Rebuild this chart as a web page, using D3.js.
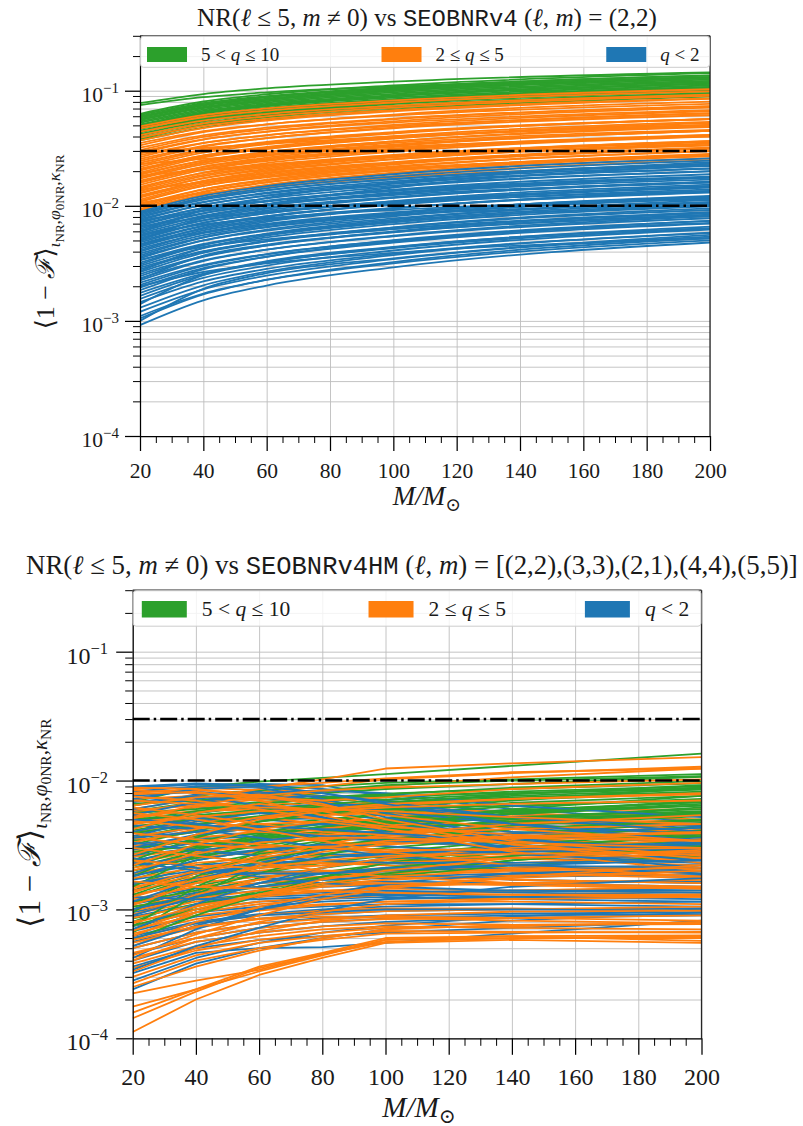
<!DOCTYPE html>
<html>
<head>
<meta charset="utf-8">
<script src="https://cdn.jsdelivr.net/npm/d3@7"></script>
<style>
  html, body { margin: 0; padding: 0; background: #fff; }
  svg { display: block; font-family: "Liberation Serif", "DejaVu Serif", serif; }
  text { white-space: pre; }
</style>
</head>
<body>
<svg id="fig" width="803" height="1126"></svg>
<script>
// ---------------------------------------------------------------
// Mass grids (total mass in solar masses) and reference levels
// ---------------------------------------------------------------
const massTop = [20, 40, 60, 100, 200];
const massBottom = [20, 40, 60, 80, 100, 140, 200];
const massTicks = [20, 40, 60, 80, 100, 120, 140, 160, 180, 200];
const thresholds = [0.03, 0.01];

// Legend categories (mass ratio bins)
const binKeys = ["high", "mid", "low"];
const binColors = { high: "#2ca02c", mid: "#ff7f0e", low: "#1f77b4" };
const binLabels = {
  high: [["5 < ", "r"], ["q", "i"], [" ≤ 10", "r"]],
  mid:  [["2 ≤ ", "r"], ["q", "i"], [" ≤ 5", "r"]],
  low:  [["q", "i"], [" < 2", "r"]]
};

// Titles (text runs: r = roman, i = italic, t = typewriter)
const titleTop = [["NR(", "r"], ["ℓ", "i"], [" ≤ 5, ", "r"], ["m", "i"], [" ≠ 0) vs ", "r"],
  ["SEOBNRv4", "t"], [" (", "r"], ["ℓ", "i"], [", ", "r"], ["m", "i"], [") = (2,2)", "r"]];
const titleBottom = [["NR(", "r"], ["ℓ", "i"], [" ≤ 5, ", "r"], ["m", "i"], [" ≠ 0) vs ", "r"],
  ["SEOBNRv4HM", "t"], [" (", "r"], ["ℓ", "i"], [", ", "r"], ["m", "i"],
  [") = [(2,2),(3,3),(2,1),(4,4),(5,5)]", "r"]];

// ---------------------------------------------------------------
// SEOBNRv4, (l,m)=(2,2): mismatch in units of 1e-3, one row per
// NR simulation, sampled on massTop
// ---------------------------------------------------------------
const v4QLow = [
  [0.92,1.51,2.03,2.92,4.8],[1.05,1.7,2.28,3.24,5.25],[1.1,1.73,2.27,3.16,5.0],
  [1.2,1.88,2.47,3.44,5.4],[1.3,2.04,2.68,3.73,5.85],[1.45,2.2,2.83,3.83,5.8],
  [1.55,2.36,3.02,4.09,6.2],[1.65,2.51,3.22,4.36,6.6],[1.75,2.57,3.24,4.29,6.3],
  [1.85,2.81,3.61,4.88,7.4],[1.95,2.87,3.61,4.78,7.0],[2.0,2.66,3.16,3.9,5.2],
  [2.05,3.01,3.79,5.02,7.4],[2.15,3.07,3.81,4.97,7.1],[2.25,3.31,4.16,5.51,8.1],
  [2.35,3.36,4.16,5.43,7.8],[2.45,3.6,4.53,6.0,8.8],[2.55,3.65,4.51,5.89,8.4],
  [2.65,3.9,4.9,6.49,9.5],[2.8,4.0,4.96,6.47,9.2],[2.9,4.03,4.9,6.26,8.7],
  [3.0,4.29,5.31,6.93,9.9],[3.1,4.56,5.74,7.6,11.2],[3.2,4.58,5.66,7.39,10.6],
  [3.35,4.66,5.66,7.24,10.0],[3.5,5.0,6.2,8.09,11.6],[3.6,5.0,6.08,7.78,10.8],
  [3.7,5.29,6.55,8.55,12.2],[3.85,5.35,6.51,8.32,11.6],[4.0,5.56,6.76,8.64,12.0],
  [4.1,5.86,7.26,9.47,13.5],[4.25,5.78,6.97,8.76,11.9],[4.4,6.12,7.44,9.5,13.2],
  [4.5,6.44,7.97,10.4,14.9],[4.65,6.32,7.63,9.58,13.0],[4.8,6.67,8.11,10.4,14.4],
  [4.95,6.73,8.12,10.2,13.9],[5.0,7.85,10.3,14.4,22.5],[5.1,7.09,8.62,11.0,15.3],
  [5.25,7.14,8.61,10.8,14.7],[5.4,7.51,9.13,11.7,16.2],[5.6,7.45,8.85,10.9,14.6],
  [5.75,7.82,9.43,11.8,16.1],[5.9,8.2,9.97,12.7,17.7],[6.0,9.12,11.7,15.8,24.0],
  [6.1,8.11,9.64,11.9,15.9],[6.3,8.57,10.3,13.0,17.6],[6.5,8.65,10.3,12.7,16.9],
  [6.7,9.11,11.0,13.8,18.8],[6.9,9.18,10.9,13.5,17.9],[7.1,9.66,11.6,14.6,19.9],
  [7.3,9.49,11.1,13.5,17.5],[7.5,10.2,12.3,15.5,21.0],[7.7,10.2,12.2,15.0,20.0],
  [7.9,10.7,13.0,16.3,22.1],[8.1,10.8,12.8,15.8,21.1],[8.3,11.3,13.6,17.1,23.2],
  [8.5,11.7,14.2,17.9,24.7],[8.7,11.6,13.7,17.0,22.6],[8.9,12.2,14.8,18.8,25.8],
  [1.0,1.9,2.6,3.5,5.6],[1.4,2.5,3.3,4.4,6.4],[2.3,3.7,4.6,5.9,8.2],
  [2.7,4.3,5.5,7.2,10.3],[3.4,4.4,5.1,6.3,8.6],[4.6,5.9,6.9,8.3,10.6],
  [5.5,6.9,7.8,9.2,11.4],[6.6,7.9,8.9,10.6,13.4],[7.4,9.0,10.3,12.4,16.0]
];
const v4QMid = [
  [8.6,11.8,14.3,18.1,24.9],[9.0,12.5,15.2,19.4,27.0],[9.2,12.5,15.1,19.0,25.8],
  [9.4,13.1,15.9,20.3,28.2],[9.8,13.3,16.1,20.2,27.4],[10.0,13.9,16.9,21.6,30.0],
  [10.3,13.9,16.6,20.6,27.8],[10.8,14.9,18.0,22.8,31.3],[11.0,14.9,17.7,22.0,29.7],
  [11.3,15.4,18.5,23.3,31.6],[11.8,15.9,19.0,23.6,31.9],[12.0,16.5,20.0,25.3,34.8],
  [12.3,16.4,19.4,24.0,32.0],[12.8,17.4,21.0,26.4,35.8],[13.0,17.3,20.5,25.4,33.8],
  [13.4,18.1,21.6,26.8,36.2],[14.0,18.6,22.1,27.3,36.4],[14.3,19.4,23.5,29.5,40.0],
  [14.6,19.3,22.6,27.7,36.5],[15.2,20.5,24.5,30.4,41.0],[15.8,21.0,25.0,30.8,41.1],
  [16.0,21.8,26.2,33.0,44.8],[16.5,21.8,25.6,31.4,41.3],[17.2,22.9,27.2,33.5,44.7],
  [17.6,23.9,28.9,36.3,49.3],[17.9,23.6,27.7,34.0,44.8],[18.6,24.7,29.4,36.3,48.4],
  [19.0,24.7,28.9,35.2,45.6],[19.4,26.2,31.2,38.8,52.4],[20.2,26.7,31.3,38.4,50.5],
  [20.6,27.4,32.5,40.2,53.6],[21.0,27.3,31.9,38.9,50.4],[21.8,29.0,34.4,42.5,56.7],
  [22.7,30.0,35.2,43.1,56.8],[23.6,30.7,35.9,43.7,56.6],[24.5,32.6,38.7,47.8,63.7],
  [25.5,33.2,38.8,47.2,61.2],[26.5,35.0,41.1,50.4,66.3],[27.5,35.2,41.0,49.2,63.3],
  [28.5,37.6,44.2,54.2,71.3],[29.5,37.8,44.0,52.8,67.9],[30.5,39.7,46.4,56.4,73.2],
  [32.0,41.0,47.7,57.3,73.6],[33.5,43.6,50.9,62.0,80.4],[35.0,44.5,51.1,60.9,77.0],
  [37.0,47.4,55.1,66.2,85.1],[39.0,49.5,56.9,67.9,85.8],[41.0,52.1,59.9,71.3,90.2],
  [44.0,55.0,62.9,73.9,92.4],[47.0,58.8,67.2,79.0,98.7],[49.0,61.3,70.1,82.3,103],
  [10.6,12.8,14.6,17.6,23.0],[13.8,16.0,17.9,21.2,27.0],[18.2,20.6,22.8,26.6,33.4],
  [23.0,25.6,28.0,32.4,40.2],[29.0,31.8,34.6,40.0,49.6]
];
const v4QHigh = [
  [37,47.8,56.4,68.5,88.8],[38,50.2,58.9,72.2,95],[39,50.3,58.9,71.0,91.7],
  [40.5,52.2,61.2,73.7,95.2],[42,54.2,63.4,76.4,98.7],[43.5,55.7,64.8,77.9,100],
  [44,57.2,66.9,81.4,106],[45,57.6,67.1,80.6,103.5],[46.5,59.5,69.3,83.2,107],
  [48,61.4,71.0,84.5,108],[49.5,63.4,73.3,87.1,111],[50,64,74.5,89.5,115],
  [51,65.3,75.5,89.8,115],[52.5,66.7,76.7,91.4,116],[54,68.6,78.8,94.0,119],
  [55.5,70.5,81.0,96.6,122],[56,71.7,83.4,100,129],[57,72.4,83.2,99.2,125],
  [58.5,74.3,85.4,102,129],[59,75.5,87.9,106,136],[60,76.2,87.6,104,132],
  [61.5,78.1,89.8,107,135],[63,80.6,93.2,111,142],[75,87.8,96.8,109,128],
  [78,93.6,105,120,144]
];

// ---------------------------------------------------------------
// SEOBNRv4HM, five modes: mismatch in units of 1e-3, sampled on
// massBottom
// ---------------------------------------------------------------
const hmQLow = [
  [8.8,9.3,9.4,9.2,7.5,5.5,4.2],[7.0,9.0,9.2,8.6,7.8,6.0,4.8],[6.4,7.8,8.2,7.0,6.2,5.0,4.5],
  [5.8,6.6,7.4,7.6,7.0,5.6,4.0],[5.2,6.2,6.0,5.6,5.0,4.3,3.6],[4.8,5.6,6.4,6.2,5.4,4.0,3.2],
  [4.3,5.2,5.0,4.6,4.2,3.6,3.0],[3.9,4.6,5.0,5.1,4.8,4.0,3.5],[3.5,4.4,4.5,4.1,3.8,3.2,2.7],
  [3.2,3.6,3.9,4.2,4.4,4.6,4.8],[2.9,3.5,3.7,3.6,3.4,3.0,2.6],[2.6,3.0,3.4,3.5,3.6,3.4,3.1],
  [2.4,2.9,3.1,3.0,2.8,2.5,2.3],[2.2,2.6,2.9,3.1,3.3,3.6,3.9],[2.0,2.5,2.8,2.7,2.5,2.2,2.0],
  [1.85,2.2,2.4,2.6,2.7,2.8,2.9],[1.7,2.0,2.3,2.4,2.3,2.0,1.8],[1.55,1.9,2.1,2.3,2.4,2.5,2.6],
  [1.4,1.75,1.95,2.0,1.9,1.7,1.6],[1.3,1.6,1.8,1.9,2.0,2.1,2.2],[1.2,1.45,1.6,1.7,1.75,1.8,1.85],
  [1.1,1.35,1.5,1.6,1.65,1.6,1.5],[1.0,1.25,1.4,1.5,1.55,1.6,1.65],[0.95,1.2,1.3,1.35,1.4,1.35,1.3],
  [0.88,1.1,1.25,1.3,1.35,1.4,1.45],[0.8,1.0,1.15,1.2,1.25,1.2,1.15],[0.74,0.95,1.05,1.15,1.2,1.25,1.3],
  [0.68,0.88,1.0,1.05,1.1,1.1,1.05],[0.62,0.8,0.92,1.0,1.05,1.1,1.15],[0.56,0.74,0.85,0.92,0.97,1.0,1.02],
  [0.5,0.66,0.78,0.86,0.9,0.93,0.95],[0.45,0.6,0.72,0.8,0.85,0.9,0.92],[0.4,0.56,0.66,0.74,0.8,0.86,0.9],
  [0.36,0.5,0.58,0.62,0.66,0.72,0.8],[0.32,0.46,0.5,0.51,0.55,0.65,0.82],[0.24,0.38,0.5,0.6,0.7,0.82,0.95],
  [0.28,0.42,0.55,0.66,0.75,0.88,1.0],[6.0,7.2,8.0,8.4,8.0,6.4,5.2],[7.6,8.2,7.4,6.6,5.8,4.6,3.8],
  [4.0,5.0,6.0,6.6,6.4,5.2,4.4],[3.0,3.8,4.3,4.6,4.5,3.8,3.3],[2.7,3.3,3.0,2.7,2.6,2.8,3.0],
  [1.6,1.9,2.2,2.5,2.7,3.0,3.3],[1.0,1.3,1.5,1.7,1.8,1.9,2.0],[0.6,0.78,0.9,0.95,1.0,1.0,0.98],
  [8.2,9.0,8.8,7.2,5.6,3.6,2.6],[6.8,7.6,6.4,5.2,4.2,3.0,2.4],[5.4,6.8,7.8,6.8,5.2,3.4,2.8],
  [4.5,4.2,3.6,3.0,2.6,2.2,1.9],[3.7,4.8,5.6,5.2,4.0,2.8,2.1],[2.5,2.1,1.8,1.6,1.5,1.4,1.4],
  [1.9,2.7,3.4,3.8,3.6,3.0,2.4],[1.15,1.7,2.3,2.9,3.4,3.9,4.3],[0.7,1.1,1.6,2.1,2.5,2.9,3.2],
  [0.42,0.7,1.0,1.3,1.6,1.9,2.1],[0.34,0.52,0.72,0.98,1.2,1.5,1.75],[9.0,9.5,9.2,8.0,6.8,5.2,4.0],
  [3.3,2.9,2.6,2.4,2.3,2.3,2.4],[5.0,4.6,4.1,3.7,3.4,3.1,2.9],[1.25,1.2,1.2,1.25,1.3,1.25,1.2],
  [7.2,8.6,9.0,8.0,6.6,4.6,3.4],[3.6,4.0,4.4,4.2,3.9,3.4,3.0],[1.8,2.4,2.9,3.2,3.1,2.7,2.3],
  [0.9,1.25,1.6,1.9,2.1,2.2,2.1],[0.52,0.75,1.0,1.2,1.35,1.4,1.35],[2.3,2.0,1.9,1.9,2.0,2.2,2.4]
];
const hmQMid = [
  [8.6,8.8,8.4,7.6,6.4,5.0,4.0],[8.2,8.4,8.0,7.0,6.0,4.6,3.8],[6.0,7.2,8.6,10.2,12.4,13.6,15.2],
  [5.6,6.8,8.0,9.0,10.2,11.4,12.8],[5.0,6.2,7.2,8.2,9.0,10.6,12.4],[7.2,7.6,7.0,6.2,5.6,4.8,4.2],
  [6.6,7.0,7.2,6.8,6.4,5.6,5.0],[5.9,6.4,5.8,5.2,4.8,4.4,4.0],[5.3,5.8,6.0,5.8,5.4,5.0,4.6],
  [4.7,5.4,5.6,5.0,4.3,3.6,3.0],[4.4,5.0,5.2,5.4,5.6,5.8,6.0],[4.0,4.8,5.2,4.6,4.0,3.4,2.9],
  [3.7,4.3,4.6,4.8,5.0,5.3,5.6],[3.4,4.0,4.2,3.9,3.5,3.0,2.6],[3.1,3.6,4.0,4.3,4.5,4.7,4.9],
  [2.8,3.3,3.6,3.4,3.1,2.7,2.4],[2.55,3.0,3.3,3.5,3.7,3.9,4.1],[2.3,2.8,3.1,3.0,2.8,2.5,2.2],
  [2.1,2.5,2.8,3.0,3.2,3.5,3.8],[1.9,2.3,2.5,2.4,2.3,2.1,1.9],[1.75,2.1,2.4,2.6,2.8,3.0,3.2],
  [1.6,1.95,2.2,2.3,2.2,2.0,1.8],[1.5,1.8,2.0,2.2,2.4,2.6,2.8],[1.4,1.7,1.9,2.0,2.0,1.9,1.75],
  [1.3,1.6,1.8,1.95,2.1,2.3,2.5],[1.2,1.5,1.7,1.8,1.8,1.7,1.6],[1.12,1.4,1.6,1.75,1.9,2.05,2.2],
  [1.05,1.3,1.5,1.6,1.6,1.55,1.45],[0.98,1.22,1.4,1.55,1.7,1.85,2.0],[0.92,1.15,1.3,1.4,1.45,1.4,1.35],
  [0.86,1.08,1.25,1.38,1.5,1.6,1.7],[0.8,1.0,1.15,1.25,1.3,1.3,1.25],[0.75,0.95,1.1,1.2,1.3,1.4,1.5],
  [0.7,0.9,1.02,1.1,1.15,1.15,1.1],[0.65,0.84,0.98,1.08,1.15,1.22,1.3],[0.6,0.78,0.9,0.98,1.02,1.02,0.98],
  [0.55,0.72,0.85,0.92,0.97,1.0,1.05],[0.5,0.66,0.78,0.84,0.88,0.86,0.82],[0.46,0.6,0.72,0.8,0.84,0.86,0.9],
  [0.42,0.56,0.66,0.74,0.78,0.76,0.77],[0.38,0.52,0.62,0.7,0.74,0.72,0.7],[0.35,0.48,0.58,0.66,0.72,0.74,0.8],
  [0.3,0.44,0.55,0.62,0.68,0.67,0.66],[0.267,0.4,0.5,0.58,0.65,0.66,0.67],[0.223,0.28,0.34,0.45,0.58,0.62,0.63],
  [0.176,0.24,0.36,0.46,0.6,0.62,0.57],[0.158,0.24,0.33,0.44,0.58,0.6,0.6],[0.143,0.23,0.35,0.45,0.56,0.6,0.62],
  [0.112,0.2,0.31,0.42,0.55,0.58,0.55],[8.4,8.0,7.4,7.0,7.4,8.6,9.6],[7.0,6.6,6.2,6.0,6.4,7.2,8.0],
  [6.2,5.4,4.6,4.0,3.8,3.6,3.4],[4.9,4.4,4.0,3.8,3.9,4.2,4.6],[3.6,3.2,3.0,3.1,3.3,3.6,4.0],
  [2.4,2.2,2.1,2.2,2.3,2.5,2.7],[8.0,8.6,9.0,9.6,10.4,11.6,12.4],[3.3,4.2,5.2,6.0,6.6,7.2,7.8],
  [1.45,2.0,2.6,3.2,3.8,4.6,5.4],[0.9,1.3,1.7,2.1,2.5,3.0,3.5],[0.52,0.8,1.05,1.3,1.5,1.75,2.0],
  [7.8,8.2,7.0,5.4,4.2,2.8,2.0],[6.4,7.4,7.8,6.6,5.0,3.4,2.6],[5.6,5.0,4.2,3.4,2.8,2.2,1.8],
  [4.2,5.6,6.6,5.8,4.6,3.2,2.3],[3.0,2.6,2.3,2.0,1.8,1.6,1.5],[2.2,3.2,4.2,4.8,4.2,3.2,2.5],
  [1.65,1.5,1.45,1.4,1.35,1.3,1.3],[1.08,1.6,2.2,2.8,3.2,3.6,4.0],[0.62,0.95,1.3,1.7,2.0,2.5,2.9],
  [0.44,0.64,0.9,1.2,1.45,1.8,2.2],[0.33,0.5,0.68,0.82,0.9,0.96,0.98],[8.8,8.6,7.6,6.4,5.4,4.2,3.4],
  [5.1,6.4,7.6,8.4,8.8,9.4,10.2],[2.65,3.8,5.0,5.8,6.2,6.6,7.0],[1.35,1.9,2.5,3.0,3.4,3.7,3.9],
  [0.78,1.05,1.3,1.5,1.6,1.55,1.45],[0.58,0.74,0.84,0.88,0.86,0.82,0.78],
  [7.5,7.0,6.0,5.0,4.4,3.8,3.4],[4.6,5.2,5.8,6.0,5.8,5.2,4.6],[3.9,3.5,3.2,3.0,2.9,2.9,3.0],
  [2.0,2.7,3.3,3.6,3.6,3.3,3.0],[1.25,1.7,2.1,2.4,2.6,2.7,2.8],[0.68,1.0,1.3,1.6,1.8,2.0,2.1],
  [0.4,0.6,0.8,0.96,1.1,1.2,1.25],[0.25,0.36,0.48,0.6,0.7,0.76,0.78]
];
const hmQHigh = [
  [6.8,8.9,9.8,10.5,11.2,13.0,16.2],[6.4,7.6,8.4,9.0,9.6,10.2,11.2],[5.8,6.8,7.4,8.0,8.6,9.4,10.7],
  [5.2,6.2,6.8,7.4,7.9,8.6,9.5],[4.6,5.6,6.3,6.9,7.4,8.2,9.0],[4.1,5.0,5.7,6.3,6.8,7.6,8.5],
  [3.6,4.5,5.2,5.8,6.3,7.1,8.0],[3.2,4.1,4.8,5.4,5.9,6.7,7.6],[2.9,3.7,4.4,5.0,5.5,6.3,7.2],
  [2.6,3.4,4.0,4.6,5.1,5.9,6.8],[2.35,3.1,3.7,4.3,4.8,5.5,6.4],[2.1,2.8,3.4,3.9,4.4,5.2,6.0],
  [1.9,2.6,3.1,3.6,4.1,4.8,5.7],[1.7,2.4,2.9,3.4,3.8,4.5,5.3],[1.55,2.2,2.7,3.1,3.5,4.2,5.0],
  [1.4,2.0,2.5,2.9,3.3,3.9,4.7],[1.25,1.8,2.3,2.7,3.0,3.6,4.4],[1.12,1.65,2.1,2.5,2.8,3.4,4.1],
  [1.0,1.5,1.9,2.3,2.6,3.2,3.9],[0.9,1.35,1.75,2.1,2.4,3.0,3.7],[0.8,1.2,1.6,1.95,2.25,2.8,3.5],
  [0.7,1.05,1.4,1.75,2.05,2.6,3.3],[0.62,0.95,1.25,1.55,1.85,2.4,3.1],[3.0,3.4,3.9,4.7,5.6,7.0,8.8],
  [2.0,2.5,3.2,4.0,4.8,6.0,7.6],[1.3,1.9,2.6,3.3,4.0,5.0,6.2],[4.4,5.0,5.6,6.0,6.6,7.4,8.2],
  [5.6,6.0,6.6,7.2,7.6,8.0,8.6],[6.6,7.0,7.6,8.4,9.2,10.0,10.8],[0.85,1.1,1.35,1.6,1.8,2.2,2.6],
  [2.4,3.6,4.8,5.6,6.0,6.4,7.0],[1.8,2.9,3.8,4.4,4.8,5.2,5.8],
  [0.66,1.3,2.2,3.2,4.2,5.6,7.0],[0.95,1.8,2.8,3.8,4.6,5.8,6.8],[1.5,2.6,3.6,4.4,5.0,5.8,6.4],
  [2.2,3.0,3.6,4.0,4.3,4.8,5.4],[3.4,4.0,4.4,4.6,4.8,5.1,5.5],[4.9,5.8,6.6,7.2,7.8,8.8,9.9],
  [0.75,1.0,1.3,1.6,1.9,2.4,3.0],[1.05,1.25,1.5,1.8,2.1,2.6,3.2],
  [0.58,0.9,1.3,1.8,2.3,3.0,3.8],[1.15,1.4,1.9,2.6,3.4,4.6,5.6],[2.8,3.1,3.5,4.0,4.6,5.6,6.6],
  [3.9,4.6,5.3,6.0,6.7,7.8,9.2],[0.74,1.5,2.4,3.0,3.5,4.2,4.9],[5.0,5.4,5.9,6.5,7.1,7.9,8.8]
];

// ---------------------------------------------------------------
// Drawing
// ---------------------------------------------------------------
const SERIF = '"Liberation Serif", "DejaVu Serif", serif';
const MONO = '"Liberation Mono", "DejaVu Sans Mono", monospace';
const svg = d3.select("#fig");

function setFont(sel, size, family) {
  sel.style("font-family", family || SERIF).style("font-size", size + "px");
  return sel;
}

function addRuns(textSel, runs) {
  runs.forEach(([s, st]) => {
    const t = textSel.append("tspan").text(s);
    if (st === "i") t.style("font-style", "italic");
    if (st === "t") t.style("font-family", MONO).style("font-size", "0.95em");
  });
}

// Alternate the three bins so no colour sits entirely on top
function interleave(groups) {
  const out = [];
  const n = d3.max(groups, g => g.rows.length);
  for (let i = 0; i < n; i++) {
    groups.forEach(g => { if (i < g.rows.length) out.push({ key: g.key, row: g.rows[i] }); });
  }
  return out;
}

// scale a text element's font so it spans the given width
function fitWidth(sel, target) {
  const fs = parseFloat(sel.style("font-size"));
  const wNow = sel.node().getComputedTextLength();
  if (wNow > 0) sel.style("font-size", (fs * target / wNow) + "px");
}

function drawPanel(cfg) {
  const x = d3.scaleLinear().domain([20, 200]).range([cfg.x0, cfg.x1]);
  const y = d3.scaleLog().domain([1e-4, 0.3]).range([cfg.yB, cfg.yT]);
  const w = cfg.x1 - cfg.x0, h = cfg.yB - cfg.yT;
  const root = svg.append("g");

  // grid
  root.append("g")
    .attr("transform", `translate(0,${cfg.yB})`)
    .call(d3.axisBottom(x).tickValues(massTicks).tickSize(-h).tickSizeOuter(0).tickFormat(""))
    .call(s => { s.select(".domain").remove();
      s.selectAll("line").attr("stroke", "#bdbdbd").attr("stroke-width", 0.9); });
  root.append("g")
    .attr("transform", `translate(${cfg.x0},0)`)
    .call(d3.axisLeft(y).tickValues(y.ticks()).tickSize(-w).tickSizeOuter(0).tickFormat(""))
    .call(s => { s.select(".domain").remove();
      s.selectAll("line").attr("stroke", "#bdbdbd").attr("stroke-width", 0.9); });

  // curves
  const clipId = "clip-" + cfg.id;
  root.append("clipPath").attr("id", clipId)
    .append("rect").attr("x", cfg.x0).attr("y", cfg.yT).attr("width", w).attr("height", h);
  const line = d3.line()
    .curve(cfg.curve)
    .x((d, i) => x(cfg.mass[i]))
    .y(d => y(d * 1e-3));
  root.append("g").attr("clip-path", `url(#${clipId})`)
    .selectAll("path")
    .data(interleave(cfg.groups))
    .join("path")
    .attr("d", d => line(d.row))
    .attr("fill", "none")
    .attr("stroke", d => binColors[d.key])
    .attr("stroke-width", cfg.lw)
    .attr("stroke-linejoin", "round");

  // reference levels
  root.append("g").selectAll("line")
    .data(thresholds)
    .join("line")
    .attr("x1", cfg.x0).attr("x2", cfg.x1)
    .attr("y1", d => y(d)).attr("y2", d => y(d))
    .attr("stroke", "#000")
    .attr("stroke-width", cfg.dashW)
    .attr("stroke-dasharray", cfg.dash);

  // right and top spines
  root.append("line").attr("x1", cfg.x1).attr("x2", cfg.x1).attr("y1", cfg.yT).attr("y2", cfg.yB)
    .attr("stroke", "#262626").attr("stroke-width", 1.25);
  root.append("line").attr("x1", cfg.x0).attr("x2", cfg.x1).attr("y1", cfg.yT).attr("y2", cfg.yT)
    .attr("stroke", "#262626").attr("stroke-width", 1.25);

  // x axis: minor, then major with labels
  const minorX = d3.range(20, 200.1, 5).filter(d => d % 20 !== 0);
  root.append("g")
    .attr("transform", `translate(0,${cfg.yB})`)
    .call(d3.axisBottom(x).tickValues(minorX).tickSize(cfg.minorLen).tickSizeOuter(0).tickFormat(""))
    .call(s => { s.select(".domain").remove();
      s.selectAll("line").attr("stroke", "#000").attr("stroke-width", 1); });
  root.append("g")
    .attr("transform", `translate(0,${cfg.yB})`)
    .call(d3.axisBottom(x).tickValues(massTicks).tickSize(cfg.majorLen).tickSizeOuter(0).tickFormat(d3.format("d")))
    .call(s => {
      s.attr("font-family", null).attr("font-size", null);
      s.select(".domain").attr("stroke", "#000").attr("stroke-width", 1.25);
      s.selectAll("line").attr("stroke", "#000").attr("stroke-width", 1.25);
      setFont(s.selectAll("text"), cfg.tickFont)
        .attr("y", cfg.xTickBase).attr("dy", 0)
        .attr("fill", "#1a1a1a");
    });

  // y axis: minor, then major with power-of-ten labels
  const isMajor = d => Math.abs(Math.log10(d) - Math.round(Math.log10(d))) < 1e-9;
  root.append("g")
    .attr("transform", `translate(${cfg.x0},0)`)
    .call(d3.axisLeft(y).tickValues(y.ticks().filter(d => !isMajor(d))).tickSize(cfg.minorLen).tickSizeOuter(0).tickFormat(""))
    .call(s => { s.select(".domain").remove();
      s.selectAll("line").attr("stroke", "#000").attr("stroke-width", 1); });
  root.append("g")
    .attr("transform", `translate(${cfg.x0},0)`)
    .call(d3.axisLeft(y).tickValues(y.ticks().filter(isMajor)).tickSize(cfg.majorLen).tickSizeOuter(0).tickFormat(""))
    .call(s => {
      s.attr("font-family", null).attr("font-size", null);
      s.select(".domain").attr("stroke", "#000").attr("stroke-width", 1.25);
      s.selectAll("line").attr("stroke", "#000").attr("stroke-width", 1.25);
      s.selectAll("text").each(function (d) {
        const t = d3.select(this);
        setFont(t, cfg.tickFont)
          .attr("x", cfg.yTickRight - cfg.x0).attr("y", cfg.yTickBase).attr("dy", 0)
          .attr("text-anchor", "end").attr("fill", "#1a1a1a");
        t.append("tspan").text("10");
        t.append("tspan").attr("dy", cfg.supDy).style("font-size", cfg.supFont + "px")
          .text("−" + Math.abs(Math.round(Math.log10(d))));
      });
    });

  // legend
  const lg = root.append("g");
  lg.append("rect")
    .attr("x", cfg.x0 + 0.5).attr("y", cfg.yT + 0.5)
    .attr("width", w - 1).attr("height", cfg.legH)
    .attr("rx", 3).attr("ry", 3)
    .attr("fill", "#fff").attr("fill-opacity", 0.8)
    .attr("stroke", "#cccccc").attr("stroke-width", 1);
  binKeys.forEach((k, i) => {
    const px = cfg.x0 + cfg.legCols[i] * w;
    lg.append("rect")
      .attr("x", px).attr("y", cfg.patchY)
      .attr("width", cfg.patchW).attr("height", cfg.patchH)
      .attr("fill", binColors[k]);
    const t = setFont(lg.append("text"), cfg.legFont)
      .attr("x", px + cfg.legTextDx).attr("y", cfg.legBase)
      .attr("fill", "#1a1a1a");
    addRuns(t, binLabels[k]);
  });

  // title, scaled to its typeset extent
  const tt = setFont(svg.append("text"), 23)
    .attr("x", cfg.titleX).attr("y", cfg.titleBase)
    .attr("text-anchor", cfg.titleAnchor)
    .attr("fill", "#1a1a1a");
  addRuns(tt, cfg.title);
  fitWidth(tt, cfg.titleWidth);

  // x label
  const xl = setFont(svg.append("text"), cfg.xLabFont)
    .attr("x", cfg.xLabX).attr("y", cfg.xLabBase)
    .attr("text-anchor", "middle")
    .attr("fill", "#1a1a1a");
  xl.append("tspan").style("font-style", "italic").text("M/M");
  xl.append("tspan").style("font-size", (cfg.xLabFont * 0.7) + "px").attr("dy", cfg.xLabFont * 0.22).text("⊙");

  // y label
  const f = cfg.yLabFont, s1 = f * 0.68, s2 = f * 0.5, d1 = f * 0.24, d2 = f * 0.13;
  const yl = setFont(svg.append("text"), f)
    .attr("transform", `translate(${cfg.yLabX},${cfg.yLabY}) rotate(-90)`)
    .attr("text-anchor", "middle")
    .attr("fill", "#1a1a1a");
  yl.append("tspan").text("⟨1 − ");
  yl.append("tspan").style("font-style", "italic").text("ℱ");
  yl.append("tspan").text("⟩");
  const sub = (txt, size, dy, it) => {
    const t = yl.append("tspan").style("font-size", size + "px").text(txt);
    if (dy) t.attr("dy", dy);
    if (it) t.style("font-style", "italic");
  };
  sub("ι", s1, d1, true); sub("NR", s2, d2); sub(",", s1, -d2);
  sub("φ", s1, 0, true); sub("0NR", s2, d2); sub(",", s1, -d2);
  sub("κ", s1, 0, true); sub("NR", s2, d2);
}

drawPanel({
  id: "v4", mass: massTop, curve: d3.curveMonotoneX,
  groups: [{ key: "low", rows: v4QLow }, { key: "mid", rows: v4QMid }, { key: "high", rows: v4QHigh }],
  x0: 140, x1: 710, yT: 35.8, yB: 436,
  lw: 1.8, dashW: 2.5, dash: "17,4,2.5,4",
  majorLen: 15, minorLen: 7,
  tickFont: 21.5, supFont: 15, supDy: -9, xTickBase: 42, yTickRight: 119, yTickBase: 10.5,
  legH: 31, legCols: [0.0123, 0.4237, 0.818], patchY: 47, patchW: 40, patchH: 15,
  legTextDx: 54, legBase: 61, legFont: 19,
  title: titleTop, titleX: 427, titleAnchor: "middle", titleBase: 26, titleWidth: 460,
  xLabX: 427, xLabBase: 505, xLabFont: 27,
  yLabX: 54, yLabY: 242, yLabFont: 26
});

drawPanel({
  id: "v4hm", mass: massBottom, curve: d3.curveLinear,
  groups: [{ key: "low", rows: hmQLow }, { key: "mid", rows: hmQMid }, { key: "high", rows: hmQHigh }],
  x0: 132.7, x1: 701.5, yT: 590.2, yB: 1038.3,
  lw: 1.8, dashW: 2.5, dash: "17,4,2.5,4",
  majorLen: 16.5, minorLen: 7.5,
  tickFont: 24, supFont: 16.5, supDy: -10, xTickBase: 47, yTickRight: 108, yTickBase: 11.5,
  legH: 35.5, legCols: [0.016, 0.4146, 0.795], patchY: 601, patchW: 45, patchH: 16.5,
  legTextDx: 60, legBase: 616, legFont: 21.5,
  title: titleBottom, titleX: 26, titleAnchor: "start", titleBase: 574, titleWidth: 772,
  xLabX: 419, xLabBase: 1117, xLabFont: 29,
  yLabX: 40, yLabY: 823, yLabFont: 31
});
</script>
</body>
</html>
